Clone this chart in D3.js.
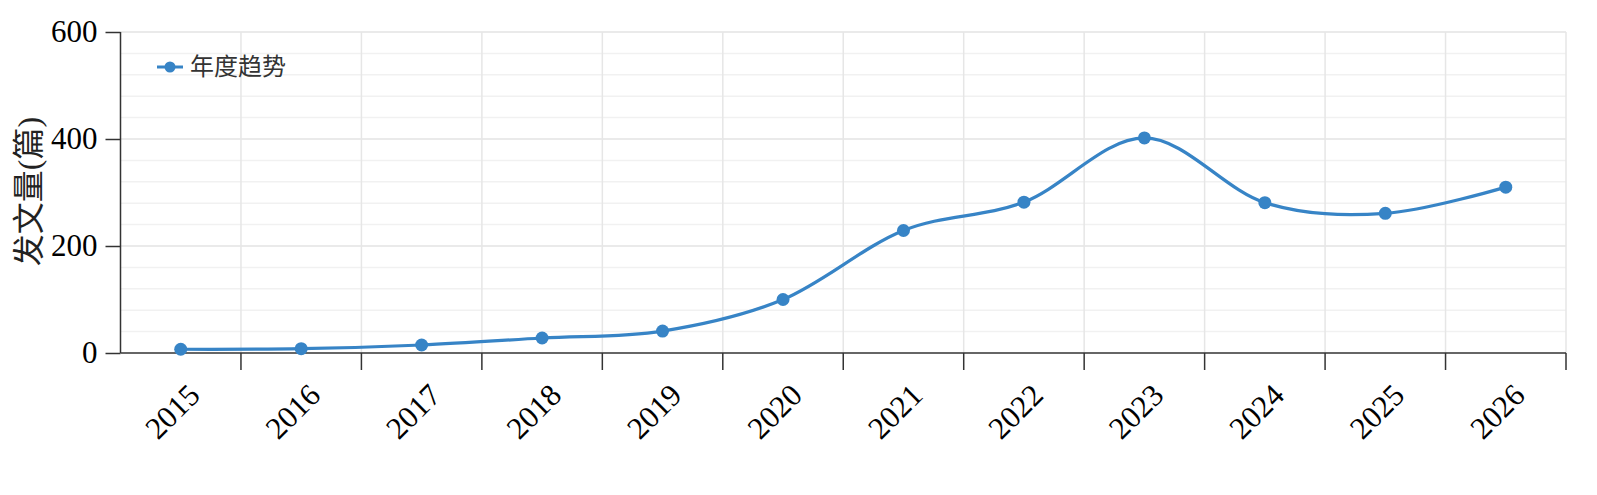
<!DOCTYPE html>
<html lang="zh">
<head>
    <meta charset="utf-8">
    <title>年度趋势</title>
    <style>
body {
    margin: 0;
    background: #fff;
}
.axis text {
    font-family: "Liberation Serif", "Times New Roman", serif;
    font-size: 31px;
    fill: #000;
}
.axis path, .axis line {
    stroke: #333;
    stroke-width: 1.5;
}
    </style>
    <script src="https://d3js.org/d3.v7.min.js"></script>
</head>
<body>
<div id="chart"></div>
<script>
// data
const years = ["2015", "2016", "2017", "2018", "2019", "2020", "2021", "2022", "2023", "2024", "2025", "2026"];
const counts = [7, 8, 15, 28, 41, 100, 229, 282, 402, 281, 261, 310];
const yTicks = [0, 200, 400, 600];
const seriesName = "年度趋势";
const yTitle = "发文量(篇)";

const width = 1597;
const height = 495;
const margin = {top: 32, right: 31, bottom: 142, left: 120.5};
const blue = "#3784c6";

const svg = d3.select("#chart").append("svg")
    .attr("width", width)
    .attr("height", height);

const x = d3.scaleBand()
    .domain(years)
    .range([margin.left, width - margin.right]);

const y = d3.scaleLinear()
    .domain([0, 600])
    .range([height - margin.bottom, margin.top]);

// grid lines - minor every 40, major every 200
const grid = svg.append("g");
grid.selectAll(".minor")
    .data(d3.range(40, 600, 40).filter(v => v % 200 !== 0))
    .enter().append("line")
    .attr("x1", margin.left).attr("x2", width - margin.right)
    .attr("y1", d => y(d)).attr("y2", d => y(d))
    .attr("stroke", "#f1f1f1").attr("stroke-width", 1.5);
grid.selectAll(".major")
    .data(yTicks.slice(1))
    .enter().append("line")
    .attr("x1", margin.left).attr("x2", width - margin.right)
    .attr("y1", d => y(d)).attr("y2", d => y(d))
    .attr("stroke", "#e3e3e3").attr("stroke-width", 1.5);
grid.selectAll(".vert")
    .data(years.slice(1).map(d => x(d)).concat([x.range()[1]]))
    .enter().append("line")
    .attr("x1", d => d).attr("x2", d => d)
    .attr("y1", y(0)).attr("y2", y(600))
    .attr("stroke", "#e6e6e6").attr("stroke-width", 1.5);

// y axis
const yAxis = svg.append("g")
    .attr("class", "axis")
    .attr("transform", "translate(" + margin.left + ",0)")
    .call(d3.axisLeft(y).tickValues(yTicks).tickSize(15).tickPadding(8).tickSizeOuter(0));
yAxis.select(".domain").attr("d", "M0," + y(0) + "V" + y(600));

// x axis, ticks on band boundaries
const xAxis = svg.append("g")
    .attr("class", "axis")
    .attr("transform", "translate(0," + y(0) + ")");
xAxis.append("line")
    .attr("x1", margin.left).attr("x2", width - margin.right);
xAxis.selectAll(".tk")
    .data(years.slice(1).map(d => x(d)).concat([x.range()[1]]))
    .enter().append("line")
    .attr("x1", d => d).attr("x2", d => d)
    .attr("y1", 0).attr("y2", 17);
xAxis.selectAll(".lbl")
    .data(years)
    .enter().append("text")
    .attr("text-anchor", "end")
    .attr("transform", d => "translate(" + (x(d) + x.bandwidth() / 2 + 21) + ",44) rotate(-45)")
    .text(d => d);

// y title
svg.append("text")
    .attr("transform", "translate(40," + (y(300) - 1) + ") rotate(-90)")
    .attr("text-anchor", "middle")
    .attr("font-family", "'Liberation Serif', 'Noto Sans CJK SC', serif")
    .attr("font-size", 32)
    .attr("fill", "#222")
    .text(yTitle);

// line + points
const line = d3.line()
    .x((d, i) => x(years[i]) + x.bandwidth() / 2)
    .y(d => y(d))
    .curve(d3.curveCardinal.tension(0));

svg.append("path")
    .datum(counts)
    .attr("fill", "none")
    .attr("stroke", blue)
    .attr("stroke-width", 3.2)
    .attr("d", line);

svg.selectAll(".pt")
    .data(counts)
    .enter().append("circle")
    .attr("cx", (d, i) => x(years[i]) + x.bandwidth() / 2)
    .attr("cy", d => y(d))
    .attr("r", 6.5)
    .attr("fill", blue);

// legend
const legend = svg.append("g").attr("transform", "translate(157,67)");
legend.append("line")
    .attr("x1", 0).attr("x2", 26)
    .attr("stroke", blue).attr("stroke-width", 3);
legend.append("circle")
    .attr("cx", 13).attr("r", 5.5)
    .attr("fill", blue);
legend.append("text")
    .attr("x", 33).attr("dy", "0.35em")
    .attr("font-family", "'Noto Sans CJK SC', sans-serif")
    .attr("font-size", 24)
    .attr("fill", "#333")
    .text(seriesName);
</script>
</body>
</html>
